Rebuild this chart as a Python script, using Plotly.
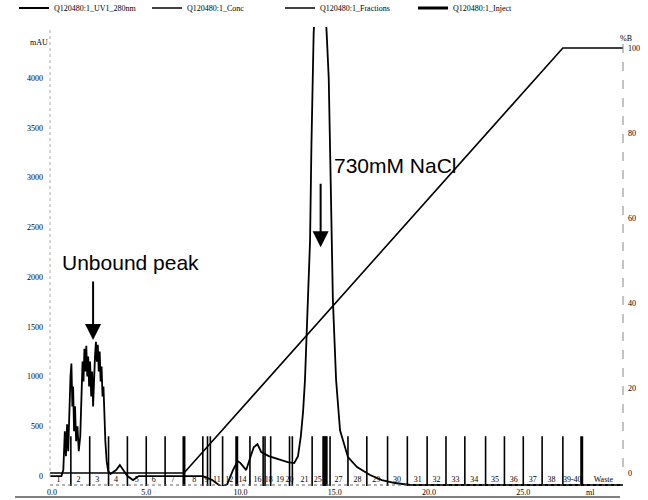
import plotly.graph_objects as go

# ---------------- data ----------------
uv_ml = [-0.1, 0.5, 0.6, 0.68, 0.74, 0.8, 0.86, 0.92, 0.98, 1.03, 1.08, 1.12, 1.17, 1.22,
         1.28, 1.35, 1.42, 1.5, 1.56, 1.62, 1.67, 1.72, 1.77, 1.82, 1.87, 1.92, 1.97, 2.02,
         2.08, 2.13, 2.18, 2.23, 2.28, 2.33, 2.38, 2.43, 2.48, 2.53, 2.58, 2.63, 2.68, 2.73,
         2.78, 2.83, 2.9, 2.98, 3.1, 3.4, 3.6, 3.8, 4.0, 4.3, 4.6, 7.0, 8.0, 8.5, 9.0, 9.3,
         9.6, 9.85, 10.0, 10.3, 10.5, 10.7, 10.9, 11.1, 11.5, 12.0, 12.5, 12.85, 13.05, 13.2,
         13.32, 13.42, 13.58, 13.69, 13.76, 13.82, 13.88, 13.95, 14.1, 14.3, 14.5, 14.57,
         14.68, 14.76, 14.84, 14.9, 15.07, 15.28, 15.7, 16.18, 16.87, 17.5, 18.2, 19.0, 30.3]
uv_mau = [0, 0, 60, 450, 200, 520, 250, 700, 1000, 1130, 700, 900, 450, 700,
          350, 500, 250, 400, 900, 1150, 950, 1280, 1050, 1310, 1000, 1200, 900, 1150,
          800, 1050, 700, 1000, 1200, 1350, 1150, 1320, 1050, 1250, 950, 1100, 800, 900,
          600, 350, 150, 50, 20, 60, 110, 60, 0, -40, 0, 0, 0, -40, -110, -80,
          60, 150, 130, 60, 170, 290, 320, 240, 200, 170, 140, 130, 200, 400,
          650, 965, 1770, 2370, 3300, 4000, 4450, 4700, 5000, 5100, 4700, 4450,
          4000, 3200, 2370, 1770, 965, 460, 190, 90, 10, -40, -70, -90, -90]

conc_ml = [-0.1, 7.0, 27.1, 30.3]
conc_pct = [0, 0, 100, 100]

frac_ml = [1, 2, 3, 4, 5, 6, 8.0, 8.25, 8.4, 9.05, 10.5, 11.2, 11.3, 11.6, 12.6, 12.75,
           13.8, 14.38, 14.43, 14.48, 14.53, 14.58, 14.75, 15.7, 16.7, 17.8, 18.85, 19.9,
           20.9, 21.9, 23.0, 24.0, 25.0, 26.0, 27.1]
inject_ml = [7.0, 9.8, 28.1]

label_ml = [0.35, 1.4, 2.4, 3.4, 4.5, 5.4, 6.4, 7.55, 8.2, 8.75, 9.4, 10.1, 10.9, 11.5,
            12.1, 12.6, 13.4, 14.1, 15.2, 16.2, 17.2, 18.3, 19.4, 20.4, 21.4, 22.4, 23.5,
            24.5, 25.5, 26.5, 27.6, 29.25]
label_txt = ["1", "2", "3", "4", "5", "6", "7", "8", "9", "11", "12", "14", "16", "18",
             "19", "20", "21", "25", "27", "28", "29", "30", "31", "32", "33", "34", "35",
             "36", "37", "38", "39-40", "Waste"]

x_ticks = [0, 5, 10, 15, 20, 25]
x_ticktext = ["0.0", "5.0", "10.0", "15.0", "20.0", "25.0"]
y_ticks = [0, 500, 1000, 1500, 2000, 2500, 3000, 3500, 4000]
y2_ticks = [0, 20, 40, 60, 80, 100]

FRAC_TOP = 400
FRAC_BOT = -100

# ---------------- figure ----------------
SERIF = "Liberation Serif"
SANS = "Liberation Sans"

def segs(xs, lo, hi):
    X, Y = [], []
    for v in xs:
        X += [v, v, None]
        Y += [lo, hi, None]
    return X, Y

fig = go.Figure()

fig.add_trace(go.Scatter(x=uv_ml, y=uv_mau, mode="lines", name="Q120480:1_UV1_280nm",
                         line=dict(color="black", width=1.8)))
fig.add_trace(go.Scatter(x=conc_ml, y=conc_pct, mode="lines", name="Q120480:1_Conc",
                         yaxis="y2", line=dict(color="black", width=1.6)))
fx, fy = segs(frac_ml, FRAC_BOT, FRAC_TOP)
fig.add_trace(go.Scatter(x=fx, y=fy, mode="lines", name="Q120480:1_Fractions",
                         line=dict(color="black", width=1.6)))
ix, iy = segs(inject_ml, FRAC_BOT, FRAC_TOP)
fig.add_trace(go.Scatter(x=ix, y=iy, mode="lines", name="Q120480:1_Inject",
                         line=dict(color="black", width=3)))
fig.add_trace(go.Scatter(x=label_ml, y=[-35] * len(label_ml), mode="text", text=label_txt,
                         textfont=dict(family=SERIF, size=8, color="black"),
                         showlegend=False, hoverinfo="skip"))

# plot area in pixels: x 50..623, y 27..486
PL, PR, PT, PB = 50, 623, 27, 486
W, H = 648, 500

def px(xp):
    return (xp - PL) / (PR - PL)

def py(yp):
    return (PB - yp) / (PB - PT)

fig.update_layout(
    width=W, height=H, autosize=False,
    margin=dict(l=PL, r=W - PR, t=PT, b=H - PB, pad=0, autoexpand=False),
    plot_bgcolor="white", paper_bgcolor="white",
    font=dict(family=SERIF, size=8, color="black"),
    xaxis=dict(range=[-0.106, 30.29], tickvals=x_ticks, ticktext=x_ticktext,
               showgrid=False, zeroline=False, showline=False, ticks="",
               ticklabelstandoff=0, automargin=False,
               tickfont=dict(family=SERIF, size=8, color="black")),
    yaxis=dict(range=[-100, 4512], tickvals=y_ticks, showgrid=False, zeroline=False,
               showline=False, ticks="", ticklabelstandoff=6, automargin=False,
               tickfont=dict(family=SERIF, size=8, color="black")),
    yaxis2=dict(range=[-3.06, 104.94], tickvals=y2_ticks, overlaying="y", side="right",
                showgrid=False, zeroline=False, showline=False, ticks="",
                ticklabelstandoff=4, automargin=False,
                tickfont=dict(family=SERIF, size=8, color="black")),
    legend=dict(orientation="h", xref="container", yref="container",
                x=14 / W, y=1 - 8 / H, xanchor="left", yanchor="middle",
                entrywidth=88, entrywidthmode="pixels", bgcolor="rgba(0,0,0,0)",
                font=dict(family=SERIF, size=8, color="black"), itemwidth=30),
    showlegend=True,
)

shapes = [
    dict(type="line", xref="paper", yref="paper", x0=px(50), x1=px(50), y0=py(30), y1=py(480),
         line=dict(color="#aaaaaa", width=1, dash="dot")),
    dict(type="line", xref="paper", yref="paper", x0=px(623), x1=px(623), y0=py(44), y1=py(475),
         line=dict(color="#888888", width=1, dash="dash")),
    dict(type="line", xref="paper", yref="paper", x0=px(15), x1=px(620), y0=py(497), y1=py(497),
         line=dict(color="black", width=1)),
    dict(type="line", xref="paper", yref="paper", x0=px(50), x1=px(623), y0=py(485), y1=py(485),
         line=dict(color="#666666", width=1, dash="dot")),
]
fig.update_layout(shapes=shapes)

ann = [
    dict(text="mAU", xref="paper", yref="paper", x=px(28), y=py(36), showarrow=False,
         font=dict(family=SERIF, size=8, color="black")),
    dict(text="%B", xref="paper", yref="paper", x=px(634), y=py(32), showarrow=False,
         font=dict(family=SERIF, size=8, color="black")),
    dict(text="ml", xref="paper", yref="paper", x=px(597), y=py(492), showarrow=False,
         yanchor="middle", yshift=0,
         font=dict(family=SERIF, size=8, color="black")),
    dict(text="Unbound peak", x=4.15, y=2150, xref="x", yref="y", showarrow=False,
         font=dict(family=SANS, size=21, color="black")),
    dict(text="", x=2.18, y=1367, xref="x", yref="y", ax=0, ay=-60, showarrow=True,
         arrowhead=2, arrowsize=1.6, arrowwidth=2, arrowcolor="black", standoff=0),
    dict(text="730mM NaCl", x=14.87, y=3125, xref="x", yref="y", xanchor="left",
         showarrow=False, font=dict(family=SANS, size=21, color="black")),
    dict(text="", x=14.25, y=2300, xref="x", yref="y", ax=0, ay=-65, showarrow=True,
         arrowhead=2, arrowsize=1.6, arrowwidth=2, arrowcolor="black", standoff=0),
]
fig.update_layout(annotations=ann)

fig.write_html("out.html")
